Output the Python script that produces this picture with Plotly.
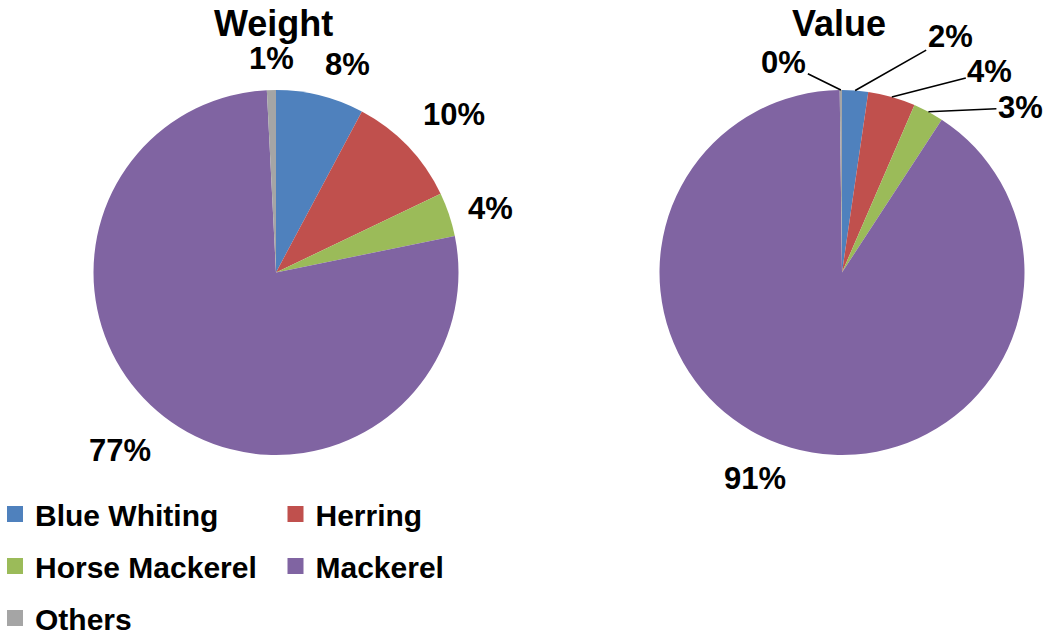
import math
import plotly.graph_objects as go

categories = ["Blue Whiting", "Herring", "Horse Mackerel", "Mackerel", "Others"]
weight_share = [7.8, 10.1, 3.9, 77.4, 0.8]
value_share = [2.3, 4.2, 2.7, 90.6, 0.2]
colors = ["#4F81BD", "#C0504D", "#9BBB59", "#8064A2", "#A5A5A5"]
titles = ["Weight", "Value"]

FONT = "Arial, Liberation Sans, sans-serif"
W, H = 1047, 637
R = 182.5
CENTERS = [(276, 272.5), (842, 272.5)]
LABEL_GAP = 12
# leader-line label offsets (pixels) for the crowded small slices of the Value pie
VALUE_LEADERS = {0: (95, -54), 1: (98, -25), 2: (92, -4), 4: (-57, -28)}

fig = go.Figure()


def px2paper(x, y):
    return x / W, 1 - y / H


def mids(vals):
    tot = sum(vals)
    cum = 0.0
    out = []
    for v in vals:
        out.append((cum + v / 2) / tot * 2 * math.pi)
        cum += v
    return out


label_font = dict(family=FONT, size=31, color="black", weight="bold")

for k, (vals, name) in enumerate(zip([weight_share, value_share], titles)):
    cx, cy = CENTERS[k]
    fig.add_trace(go.Pie(
        labels=categories, values=vals, name=name,
        sort=False, direction="clockwise", rotation=0,
        marker=dict(colors=colors, line=dict(width=0)),
        textinfo="none", showlegend=False, hoverinfo="label+percent",
        domain=dict(x=[(cx - R) / W, (cx + R) / W],
                    y=[(H - cy - R) / H, (H - cy + R) / H]),
    ))
    tx, ty = px2paper(cx - 3, 23)
    fig.add_annotation(text=name, x=tx, y=ty, xref="paper", yref="paper",
                       showarrow=False, xanchor="center", yanchor="middle",
                       font=dict(family=FONT, size=36, color="black", weight="bold"))

    tot = sum(vals)
    for i, th in enumerate(mids(vals)):
        s, c = math.sin(th), math.cos(th)
        txt = f"{round(vals[i] / tot * 100):d}%"
        if k == 1 and i in VALUE_LEADERS:
            ex, ey = cx + R * s, cy - R * c
            ax, ay = VALUE_LEADERS[i]
            px, py = px2paper(ex, ey)
            fig.add_annotation(text=txt, x=px, y=py, xref="paper", yref="paper",
                               showarrow=True, arrowhead=0, arrowwidth=1.6,
                               arrowcolor="black", ax=ax, ay=ay, standoff=0,
                               font=label_font)
        else:
            gap = LABEL_GAP + (6 if abs(s) > 0.5 else 0)
            lx, ly = cx + (R + gap) * s, cy - (R + gap) * c
            xa = "left" if s > 0.15 else ("right" if s < -0.15 else "center")
            ya = "bottom" if c > 0.4 else ("top" if c < -0.4 else "middle")
            px, py = px2paper(lx, ly)
            fig.add_annotation(text=txt, x=px, y=py, xref="paper", yref="paper",
                               showarrow=False, xanchor=xa, yanchor=ya,
                               font=label_font)

# legend entries (two columns)
for i, (cat, col) in enumerate(zip(categories, colors)):
    fig.add_trace(go.Scatter(
        x=[None], y=[None], mode="markers", name=cat,
        marker=dict(symbol="square", size=16, color=col),
        legendgroup=cat, legend="legend" if i % 2 == 0 else "legend2",
        showlegend=True, hoverinfo="skip",
    ))

legend_common = dict(
    orientation="v", yanchor="top", xanchor="left",
    font=dict(family=FONT, size=30, color="black", weight="bold"),
    traceorder="grouped", tracegroupgap=10, bgcolor="rgba(0,0,0,0)",
    itemclick=False, itemdoubleclick=False,
)
fig.update_layout(
    width=W, height=H,
    margin=dict(l=0, r=0, t=0, b=0, autoexpand=False),
    paper_bgcolor="white", plot_bgcolor="white",
    xaxis=dict(visible=False), yaxis=dict(visible=False),
    legend=dict(x=-5 / W, y=1 - 488 / H, **legend_common),
    legend2=dict(x=275.5 / W, y=1 - 488 / H, **legend_common),
)

fig.write_html("out.html", config={"displayModeBar": False},
               post_script="document.body.style.margin='0';")
